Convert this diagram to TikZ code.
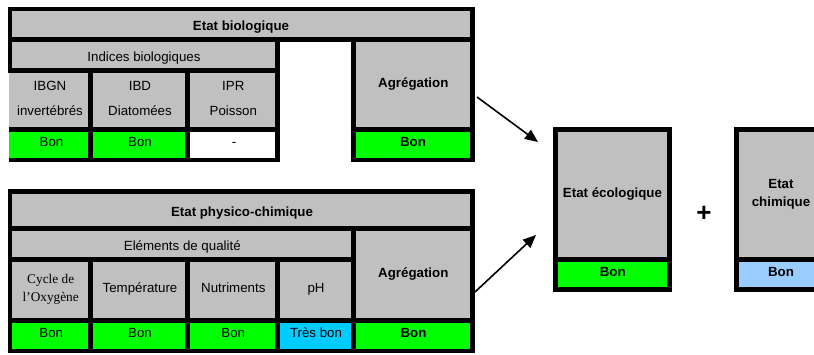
\documentclass[tikz,border=0pt]{standalone}
\usepackage{fontspec}
\setmainfont{Liberation Sans}
\newfontfamily\timesf{Liberation Serif}
\usetikzlibrary{arrows.meta}
\definecolor{cellgray}{HTML}{C0C0C0}
\definecolor{goodgreen}{HTML}{00FF00}
\definecolor{verygood}{HTML}{00CCFF}
\definecolor{chemblue}{HTML}{99CCFF}
\tikzset{
  cellsty/.style={rectangle, draw=none, inner sep=0pt, outer sep=0pt, anchor=north west},
  lbl/.style={anchor=base, inner sep=0pt, font=\fontsize{13.3}{16}\selectfont},
  lblb/.style={anchor=base, inner sep=0pt, font=\fontsize{13.3}{16}\selectfont\bfseries},
  lblt/.style={anchor=base, inner sep=0pt, font=\fontsize{13.3}{16}\selectfont\timesf},
  arrowsty/.style={line width=1.6pt, -{Triangle[length=13pt,width=11pt]}},
}
\newcommand\cellnode[6]{\node[cellsty, fill=#6, minimum width={#4pt-#2pt}, minimum height={#5pt-#3pt}] (#1) at (#2,#3) {};}
\begin{document}
\begin{tikzpicture}[x=1pt,y=-1pt]
\useasboundingbox (0,0) rectangle (814,354);
\fill[white] (0,0) rectangle (814,354);
\clip (0,0) rectangle (814,354);

% ---------- Etat biologique block ----------
\cellnode{bgA}{8}{6.7}{474.7}{41.7}{black}
\cellnode{bgB}{8}{41.7}{280}{72.7}{black}
\cellnode{bgC}{9}{72.7}{280}{162.3}{black}
\cellnode{bgD}{351}{41.7}{474.7}{162.3}{black}
\cellnode{bio}{12}{11}{470}{36.7}{cellgray}
\cellnode{ind}{12}{41.7}{275}{67.7}{cellgray}
\cellnode{ibgn}{9}{72.7}{87.7}{126.7}{cellgray}
\cellnode{ibd}{92.7}{72.7}{185}{126.7}{cellgray}
\cellnode{ipr}{190}{72.7}{275}{126.7}{cellgray}
\cellnode{agrA}{356}{41.7}{470}{126.7}{cellgray}
\cellnode{rA1}{9}{131.7}{87.7}{157.7}{goodgreen}
\cellnode{rA2}{92.7}{131.7}{185}{157.7}{goodgreen}
\cellnode{rA3}{190}{131.7}{275}{157.7}{white}
\cellnode{rA4}{356}{131.7}{470}{157.7}{goodgreen}

\node[lblb] (tbio) at (241,30) {Etat biologique};
\node[lbl] (tind) at (144,61) {Indices biologiques};
\node[lbl] (tibgn1) at (50,90) {IBGN};
\node[lbl] (tibgn2) at (50,115.7) {invertébrés};
\node[lbl] (tibd1) at (140,90) {IBD};
\node[lbl] (tibd2) at (140,115.7) {Diatomées};
\node[lbl] (tipr1) at (233.3,90) {IPR};
\node[lbl] (tipr2) at (233.3,115.7) {Poisson};
\node[lblb] (tagrA) at (413.3,87.3) {Agrégation};
\node[lbl] (tA1) at (51.5,146) {Bon};
\node[lbl] (tA2) at (140,146) {Bon};
\node[lbl] (tA3) at (234,146) {-};
\node[lblb] (tA4) at (413,146.7) {Bon};

% ---------- Etat physico-chimique block ----------
\cellnode{bgE}{8}{189}{474.7}{353.3}{black}
\cellnode{phys}{12}{194}{470}{225.7}{cellgray}
\cellnode{elem}{12}{230.7}{351}{256.7}{cellgray}
\cellnode{cyc}{12}{261.7}{87.7}{317.7}{cellgray}
\cellnode{temp}{92.7}{261.7}{185}{317.7}{cellgray}
\cellnode{nut}{190}{261.7}{275}{317.7}{cellgray}
\cellnode{ph}{280}{261.7}{351}{317.7}{cellgray}
\cellnode{agrB}{356}{230.7}{470}{317.7}{cellgray}
\cellnode{rB1}{12}{322.7}{87.7}{349}{goodgreen}
\cellnode{rB2}{92.7}{322.7}{185}{349}{goodgreen}
\cellnode{rB3}{190}{322.7}{275}{349}{goodgreen}
\cellnode{rB4}{280}{322.7}{351}{349}{verygood}
\cellnode{rB5}{356}{322.7}{470}{349}{goodgreen}

\node[lblb] (tphys) at (242,216) {Etat physico-chimique};
\node[lbl] (telem) at (182.3,250) {Eléments de qualité};
\node[lblt] (tcyc1) at (50.7,283.3) {Cycle de};
\node[lblt] (tcyc2) at (50.7,301.7) {l’Oxygène};
\node[lbl] (ttemp) at (140,292.3) {Température};
\node[lbl] (tnut) at (233.3,292.3) {Nutriments};
\node[lbl] (tph) at (316,292.3) {pH};
\node[lblb] (tagrB) at (413.3,277) {Agrégation};
\node[lbl] (tB1) at (51.3,337.3) {Bon};
\node[lbl] (tB2) at (140,337.3) {Bon};
\node[lbl] (tB3) at (233.3,337.3) {Bon};
\node[lbl] (tB4) at (316,337.3) {Très bon};
\node[lblb] (tB5) at (413.5,337.7) {Bon};

% ---------- Etat écologique ----------
\cellnode{bgF}{552.7}{126.7}{672.3}{291.7}{black}
\cellnode{eco}{557.7}{131.7}{667.3}{256.7}{cellgray}
\cellnode{ecoB}{557.7}{261.7}{667.3}{286.7}{goodgreen}
\node[lblb] (teco) at (612.5,197.3) {Etat écologique};
\node[lblb] (tecoB) at (612.7,276) {Bon};

% ---------- plus ----------
\node[anchor=base, inner sep=0pt, font=\fontsize{26}{30}\selectfont\bfseries] (plus) at (704,221) {+};

% ---------- Etat chimique ----------
\cellnode{bgG}{734.3}{126.7}{827.7}{291.7}{black}
\cellnode{chem}{739.3}{131.7}{822.7}{256.7}{cellgray}
\cellnode{chemB}{739.3}{261.7}{822.7}{286.7}{chemblue}
\node[lblb] (tchem1) at (781,188.3) {Etat};
\node[lblb] (tchem2) at (781,206.7) {chimique};
\node[lblb] (tchemB) at (781,276) {Bon};

% ---------- arrows ----------
\coordinate (a1s) at (477,97);
\coordinate (a1e) at (538,142);
\coordinate (a2s) at (475,292);
\coordinate (a2e) at (536,235);
\draw[arrowsty] (a1s) -- (a1e);
\draw[arrowsty] (a2s) -- (a2e);
\end{tikzpicture}
\end{document}
